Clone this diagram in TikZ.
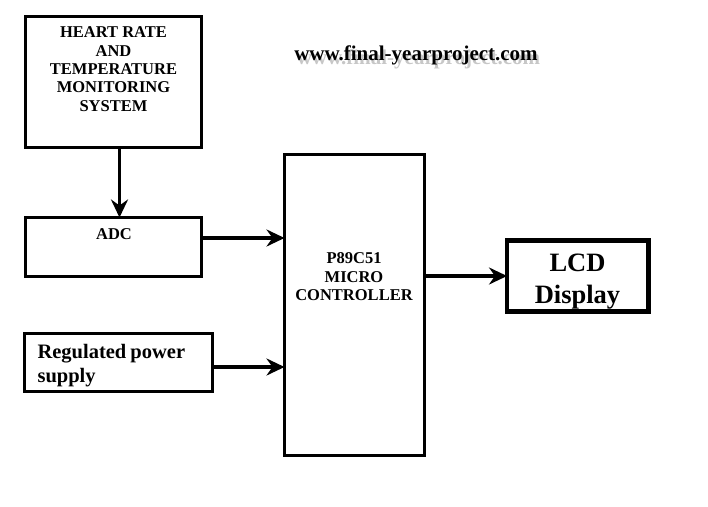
\documentclass[tikz,border=0pt]{standalone}
\usepackage{fontspec}
\setmainfont{Liberation Serif}
\usetikzlibrary{arrows.meta}
\tikzset{
  blk/.style={draw=black, line width=3.3pt, inner sep=0pt, font=\bfseries},
  conn/.style={line width=3.3pt, -{Stealth[length=18pt,width=17pt,inset=6pt]}},
  webtxt/.style={font=\bfseries\fontsize{21}{24}\selectfont},
  shd/.style={webtxt, text=black!22},
}
\begin{document}
\begin{tikzpicture}[x=1pt,y=-1pt]
\useasboundingbox (0,0) rectangle (708,506);
% boxes
\draw[blk] (25.5,16.5) rectangle (201.5,147.5);
\node[font=\bfseries\fontsize{16.5}{18.3}\selectfont, align=center, anchor=north] (hrt) at (113.5,23.5)
  {HEART RATE\\AND\\TEMPERATURE\\MONITORING\\SYSTEM};
\coordinate (hrtb) at (119.5,147.5);
\draw[blk] (25.5,217.5) rectangle (201.5,276.5);
\node[font=\bfseries\fontsize{16.5}{18}\selectfont] (adc) at (114,234) {ADC};
\coordinate (adct) at (119.5,217.5);
\coordinate (adcr) at (201.5,238);
\draw[blk, line width=2.8pt] (24.5,333.5) rectangle (212.5,391.5);
\node[font=\bfseries\fontsize{20.5}{24}\selectfont, align=left, anchor=north west] (reg) at (34,340.5)
  {Regulated\hspace{-1pt} power\\supply};
\coordinate (regr) at (212.5,367);
\draw[blk] (284.5,154.5) rectangle (424.5,455.5);
\node[font=\bfseries\fontsize{16.5}{18.5}\selectfont, align=center] (mc) at (354,277)
  {P89C51\\MICRO\\CONTROLLER};
\coordinate (mcl1) at (284.5,238);
\coordinate (mcl2) at (284.5,367);
\coordinate (mcr) at (424.5,276);
\draw[blk, line width=4.5pt] (507,240.5) rectangle (648.5,311.5);
\node[font=\bfseries\fontsize{26.5}{32}\selectfont, align=center] (lcd) at (577.5,281.5)
  {LCD\\Display};
\coordinate (lcdl) at (507,276);
% website text with shadow
\node[shd] (webs) at (418.5,59) {www.final-yearproject.com};
\node[webtxt] (web) at (416,55) {www.final-yearproject.com};
% connectors
\draw[conn] (hrtb) -- (adct);
\draw[conn] (adcr) -- (mcl1);
\draw[conn] (regr) -- (mcl2);
\draw[conn] (mcr) -- (lcdl);
\end{tikzpicture}
\end{document}
